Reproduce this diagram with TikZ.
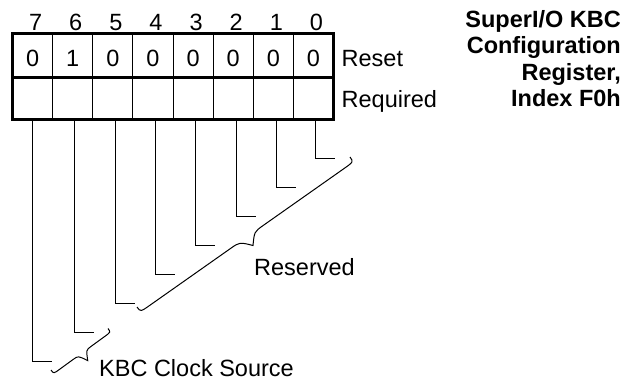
\documentclass[tikz,border=0pt]{standalone}
\usepackage{fontspec}
\setmainfont{Liberation Sans}
\usetikzlibrary{calc}
\newcommand\regbrace[7]{% #1=A #2=B #3=arm offset #4=tip #5=end hook #6=tip curve #7=half tip curve
  \draw[conn] (#1)
    .. controls ($(#1)!#3!-90:(#2)$) .. ($(#1)!#5!(#2)!#3!-90:(#2)$)
    -- ($(#1)!0.5!(#2)!#6!(#1)!#3!90:(#1)$)
    .. controls ($(#1)!0.5!(#2)!#7!(#1)!#3!90:(#1)$) .. ($(#1)!0.5!(#2)!#4!-90:(#2)$)
    .. controls ($(#1)!0.5!(#2)!#7!(#2)!#3!-90:(#2)$) .. ($(#1)!0.5!(#2)!#6!(#2)!#3!-90:(#2)$)
    -- ($(#2)!#5!(#1)!#3!90:(#1)$)
    .. controls ($(#2)!#3!90:(#1)$) .. (#2);
}
\begin{document}
\begin{tikzpicture}[x=1pt,y=-1pt,
  txt/.style={inner sep=0pt, font=\fontsize{23.5}{26}\selectfont},
  ttl/.style={inner sep=0pt, font=\fontsize{23.5}{26}\selectfont\bfseries, anchor=base east},
  conn/.style={line width=1pt, black},
  divline/.style={line width=1pt, black},
  heavyline/.style={line width=3pt, black}
]
\useasboundingbox (0,0) rectangle (639,380);

% register grid
\coordinate (TL) at (12.5,33.7);
\coordinate (BR) at (333.5,119);
\foreach \i in {1,...,7}
  \draw[divline] (12.5+40.125*\i,33.7) -- (12.5+40.125*\i,119);
\coordinate (ML) at (12.5,77);
\coordinate (MR) at (333.5,77);
\draw[heavyline] (ML) -- (MR);
\draw[heavyline] (TL) rectangle (BR);

% bit numbers
\foreach \b [count=\i from 0] in {7,6,5,4,3,2,1,0}
  \node[txt, anchor=base] (bit\b) at (35.56+40.125*\i,30.7) {\b};

% reset values
\foreach \v [count=\i from 0] in {0,1,0,0,0,0,0,0}
  \node[txt, anchor=base] (rv\i) at (32.56+40.125*\i,66) {\v};

\node[txt, anchor=base west] (reset) at (341.5,66.5) {Reset};
\node[txt, anchor=base west] (required) at (341.5,107.3) {Required};

% title
\node[ttl] (t1) at (621,27.3) {SuperI/O KBC};
\node[ttl] (t2) at (621,53.8) {Configuration};
\node[ttl] (t3) at (621,80.3) {Register,};
\node[ttl] (t4) at (621,106.8) {Index F0h};

% connectors from bits
\foreach \b/\x/\y in {7/32.5/361, 6/74/332, 5/115/303, 4/155/274, 3/195/245, 2/236/216, 1/276/187, 0/315/158} {
  \coordinate (s\b) at (\x,119);
  \coordinate (e\b) at (\x+19.5,\y);
  \draw[conn] (s\b) |- (e\b);
}

% braces
\coordinate (ResA) at (137,307);
\coordinate (ResB) at (350,157);
\regbrace{ResA}{ResB}{6pt}{16.5pt}{12pt}{20pt}{9pt}
\node[txt, anchor=base west] (reserved) at (254,275) {Reserved};

\coordinate (KbcA) at (51,370);
\coordinate (KbcB) at (108,328.5);
\regbrace{KbcA}{KbcB}{4.5pt}{14pt}{7pt}{11pt}{5pt}
\node[txt, anchor=base west] (kbc) at (99,376.3) {KBC Clock Source};
\end{tikzpicture}
\end{document}
